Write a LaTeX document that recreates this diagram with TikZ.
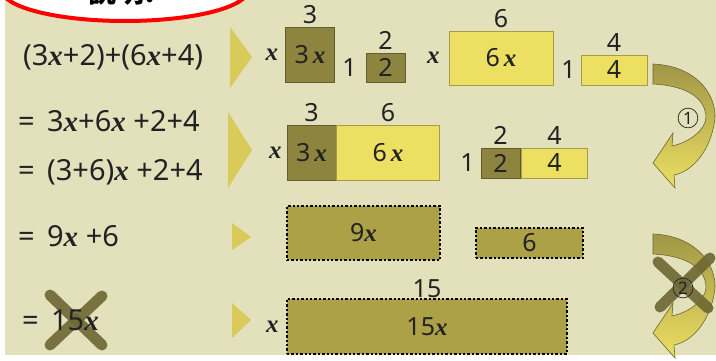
\documentclass[tikz,border=0pt]{standalone}
\usepackage{fontspec}
\setmainfont{Noto Sans}
\newfontfamily\xfont{Liberation Serif}
\newfontfamily\cjk{Noto Sans CJK JP}
\usetikzlibrary{positioning}
\definecolor{bgc}{HTML}{E3E0BC}
\definecolor{olivebox}{HTML}{8D843F}
\definecolor{yelbox}{HTML}{ECDF62}
\definecolor{dotfill}{HTML}{ACA147}
\definecolor{chevc}{HTML}{D8CB5A}
\definecolor{crossc}{HTML}{6C6733}
\definecolor{txt}{HTML}{222222}
\newcommand{\vx}{{\xfont\bfseries\itshape x}}
\tikzset{
  lbl/.style={font=\fontsize{25}{28}\selectfont, text=txt, inner sep=0pt},
  expr/.style={lbl, anchor=west, font=\fontsize{29}{32}\selectfont},
  darkbox/.style={lbl, fill=olivebox, draw=olivebox!70!black, line width=0.5pt},
  yellowbox/.style={lbl, fill=yelbox, draw=yelbox!70!black, line width=0.5pt},
  dotbox/.style={lbl, fill=dotfill, draw=black, line width=2.4pt, dash pattern=on 2.4pt off 2pt},
  chev/.style={fill=chevc},
  cross/.style={draw=crossc, line width=11pt, line cap=round, opacity=0.9},
  turnarrow/.pic={
    \shade[top color=olivebox!80!yelbox, middle color=chevc, bottom color=yelbox, draw=crossc, line width=0.6pt]
      (0,0) .. controls (47,2) and (67,36) .. (61,61) .. controls (55,91) and (37,108) .. (21,111)
      -- (22,124) -- (0,99) -- (20,69) -- (19,82) .. controls (37,78) and (52,66) .. (53,54)
      .. controls (53,36) and (37,22) .. (0,20) -- cycle;
  },
  stepnum/.style={circle, draw=txt, line width=0.7pt, inner sep=1.5pt, font=\fontsize{17}{17}\selectfont\bfseries, text=txt}
}
\begin{document}
\begin{tikzpicture}[x=1pt, y=-1pt]
  \useasboundingbox (0,0) rectangle (716,361);
  % background and title balloon
  \fill[white] (0,0) rectangle (716,361);
  \fill[bgc] (5,0) rectangle (716,355);
  \draw[red, line width=4pt, fill=white] (125,-10) ellipse [x radius=123, y radius=31];
  \node[font=\fontsize{28}{28}\selectfont\cjk\bfseries] (title) at (122,-8) {説明!};
  % left column: expressions
  \node[expr] (e1) at (23,57) {(3\vx+2)+(6\vx+4)};
  \node[expr] (e2) at (18,121) {= \,3\vx+6\vx\ +2+4};
  \node[expr] (e3) at (18,172) {= \,(3+6)\vx\ +2+4};
  \node[expr] (e4) at (18,236) {= \,9\vx\ +6};
  \draw[cross] (50,295) -- (102,345);
  \draw[cross] (102,296) -- (50,345);
  \node[expr] (e5) at (22,320) {= \,15\vx};
  % chevrons
  \fill[chev] (230,27) -- (252,57) -- (230,88) -- cycle;
  \fill[chev] (228,112) -- (252,150) -- (228,188) -- cycle;
  \fill[chev] (232,223) -- (251,237) -- (232,250) -- cycle;
  \fill[chev] (232,303) -- (251,320) -- (232,338) -- cycle;
  % row 1
  \node[darkbox, minimum width=49pt, minimum height=55pt] (a3x) at (310,55) {3\,\vx};
  \node[lbl, above=3pt of a3x] (a3) {3};
  \node[lbl, left=7pt of a3x] (ax) {\vx};
  \node[darkbox, minimum width=39pt, minimum height=29pt] (a2) at (385.5,67.5) {2};
  \node[lbl, above=3pt of a2] (a2t) {2};
  \node[lbl, left=9pt of a2] (a1) {1};
  \node[yellowbox, minimum width=104pt, minimum height=54pt] (a6x) at (501,58) {6\,\vx};
  \node[lbl, above=3pt of a6x] (a6) {6};
  \node[lbl, left=9pt of a6x] (ax2) {\vx};
  \node[yellowbox, minimum width=66pt, minimum height=30pt] (a4) at (614,70) {4};
  \node[lbl, above=3pt of a4] (a4t) {4};
  \node[lbl, left=5pt of a4] (a1b) {1};
  % row 2
  \node[darkbox, minimum width=49pt, minimum height=55pt] (b3x) at (311.5,152.5) {3\,\vx};
  \node[yellowbox, minimum width=103pt, minimum height=55pt, right=0pt of b3x] (b6x) {6\,\vx};
  \node[lbl, above=3pt of b3x] (b3) {3};
  \node[lbl, above=3pt of b6x] (b6) {6};
  \node[lbl, left=5pt of b3x] (bx) {\vx};
  \node[darkbox, minimum width=39pt, minimum height=30pt] (b2) at (500.5,163) {2};
  \node[yellowbox, minimum width=66pt, minimum height=30pt, right=1pt of b2] (b4) {4};
  \node[lbl, above=3pt of b2] (b2t) {2};
  \node[lbl, above=3pt of b4] (b4t) {4};
  \node[lbl, left=6pt of b2] (b1) {1};
  % row 3
  \node[dotbox, minimum width=153pt, minimum height=54pt] (c9x) at (363.5,233) {9\vx};
  \node[dotbox, minimum width=107pt, minimum height=30pt] (c6) at (529.5,243) {6};
  % row 4
  \node[dotbox, minimum width=280pt, minimum height=55pt] (d15x) at (427,326.5) {15\vx};
  \node[lbl, above=0pt of d15x] (d15) {15};
  \node[lbl, left=7pt of d15x] (dx) {\vx};
  % turning arrows
  \pic at (653,64) {turnarrow};
  \node[stepnum] (s1) at (688,118) {1};
  \pic at (653,234) {turnarrow};
  \draw[cross] (658,262) -- (708,308);
  \draw[cross] (710,258) -- (660,307);
  \node[stepnum] (s2) at (683,288) {2};
\end{tikzpicture}
\end{document}
